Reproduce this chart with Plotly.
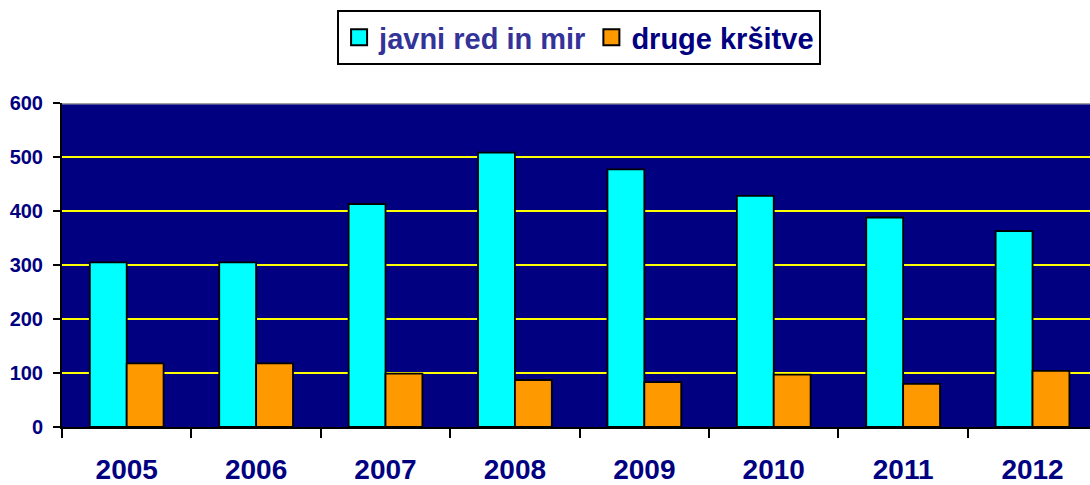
import plotly.graph_objects as go

years = ["2005", "2006", "2007", "2008", "2009", "2010", "2011", "2012"]
javni_red = [305, 305, 413, 508, 477, 428, 388, 363]
druge = [118, 118, 99, 87, 83, 97, 80, 104]
y_ticks = [0, 100, 200, 300, 400, 500, 600]

navy = "#000080"
cyan = "#00FFFF"
orange = "#FF9900"

fig = go.Figure()
fig.add_trace(go.Bar(x=years, y=javni_red, marker=dict(color=cyan, line=dict(color="black", width=1.8)),
                     showlegend=False))
fig.add_trace(go.Bar(x=years, y=druge, marker=dict(color=orange, line=dict(color="black", width=1.8)),
                     showlegend=False))
# legend entries
fig.add_trace(go.Scatter(x=[None], y=[None], mode="markers",
                         marker=dict(symbol="square", size=16, color=cyan, line=dict(color="black", width=2)),
                         name="<span style='color:#333399'>javni red in mir</span>"))
fig.add_trace(go.Scatter(x=[None], y=[None], mode="markers",
                         marker=dict(symbol="square", size=16, color=orange, line=dict(color="black", width=2)),
                         name="<span style='color:#000080'>druge kršitve</span>"))

fig.update_layout(
    width=1090, height=485,
    margin=dict(l=62, r=0, t=103, b=58),
    paper_bgcolor="white",
    plot_bgcolor=navy,
    barmode="group",
    bargap=0.43,
    bargroupgap=0,
    font=dict(family="Liberation Sans, Arial, sans-serif", color=navy),
    legend=dict(
        orientation="h",
        x=0.503, xanchor="center",
        y=1.287, yanchor="top",
        bgcolor="white",
        bordercolor="black", borderwidth=2,
        font=dict(size=29, color=navy, family="Liberation Sans, Arial, sans-serif", weight="bold"),
        itemwidth=30,
    ),
    xaxis=dict(
        type="category",
        range=[-0.5, 7.444],
        showgrid=False,
        showline=True, linecolor="black", linewidth=2,
        ticks="outside", tickson="boundaries", ticklen=9, tickwidth=2, tickcolor="black",
        tickfont=dict(size=28, color=navy, weight="bold"),
        ticklabelstandoff=16,
    ),
    yaxis=dict(
        range=[0, 600],
        tickvals=y_ticks,
        showgrid=True, gridcolor="#FFFF00", gridwidth=2,
        zeroline=False,
        showline=True, linecolor="black", linewidth=2,
        ticks="outside", ticklen=7, tickwidth=2, tickcolor="black",
        tickfont=dict(size=20, color=navy, weight="bold"),
        ticklabelstandoff=6,
    ),
    shapes=[dict(type="line", xref="paper", yref="y", x0=0, x1=1, y0=600, y1=600,
                 line=dict(color="#A0A0A0", width=3), layer="above")],
)

fig.write_html("out.html", config={"displayModeBar": False},
               post_script="document.body.style.margin='0';")
